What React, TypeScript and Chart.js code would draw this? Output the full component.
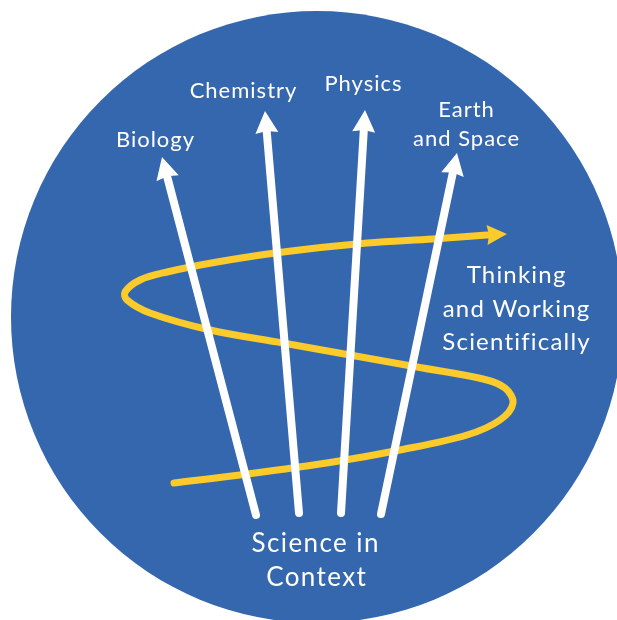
import React, { useEffect, useRef } from "react";
import { Chart, registerables } from "chart.js";

Chart.register(...registerables);

// ---- Data (diagram coordinates on a 617 x 620 value grid) ----
const circleCenterX = [317];
const circleCenterY = [317];
const circleRadius = 306;

// Subject arrows: tail (bottom) then tip (top)
const arrowNames = ["Biology", "Chemistry", "Physics", "Earth and Space"];
const arrowTailX = [256, 299, 341, 381];
const arrowTailY = [515, 513, 513, 514];
const arrowTipX = [162, 265, 365, 457];
const arrowTipY = [157, 111, 110, 153];

// "Thinking and Working Scientifically" S-shaped path
const twsX = [174, 240, 333, 400, 467, 500, 513, 505, 483, 417, 350, 283, 210, 150, 127, 125, 140, 167, 217, 283, 367, 433, 487, 507];
const twsY = [483, 475, 462, 450, 435, 420, 403, 388, 379, 367, 355, 343, 330, 313, 300, 292, 280, 272, 262, 252, 243, 239, 235, 234];

// Text labels
const labelLines = ["Biology", "Chemistry", "Physics", "Earth", "and Space", "Thinking", "and Working", "Scientifically", "Science in", "Context"];
const labelX = [155, 243, 363, 466, 466, 516, 516, 516, 315, 316];
const labelY = [140, 91, 84, 110, 139, 275, 309, 342, 544, 578];
const labelSize = [22, 22, 22, 22, 22, 24, 24, 24, 26, 26];
const labelSpacing = [1, 1, 1, 1, 1, 1.2, 1.2, 1.2, 1.4, 1.4];

const BLUE = "rgb(52,103,174)";
const YELLOW = "rgb(251,202,43)";
const WHITE = "#ffffff";

const arrowPlugin = {
  id: "arrowHeads",
  afterDatasetsUpdate(chart: any) {
    chart.data.datasets.forEach((ds: any, i: number) => {
      if (!ds.arrowHead) return;
      const meta = chart.getDatasetMeta(i);
      const pts = meta.data;
      if (pts.length < 2) return;
      const last = pts[pts.length - 1];
      const prev = pts[pts.length - 2];
      const tipX = last.x, tipY = last.y;
      const dx = tipX - prev.x, dy = tipY - prev.y;
      const len = Math.hypot(dx, dy) || 1;
      const ux = dx / len, uy = dy / len;
      const L = ds.arrowHead.length;
      meta.$arrow = { tipX, tipY, ux, uy };
      last.x = tipX - ux * (L - 3);
      last.y = tipY - uy * (L - 3);
    });
  },
  afterDatasetDraw(chart: any, args: any) {
    const ds = chart.data.datasets[args.index];
    if (!ds.arrowHead) return;
    const meta = chart.getDatasetMeta(args.index);
    const a = meta.$arrow;
    if (!a) return;
    const { length: L, halfWidth: W, notch } = ds.arrowHead;
    const ctx = chart.ctx;
    const bx = a.tipX - a.ux * L, by = a.tipY - a.uy * L;
    const px = -a.uy, py = a.ux;
    ctx.save();
    ctx.fillStyle = ds.borderColor;
    ctx.beginPath();
    ctx.moveTo(a.tipX, a.tipY);
    ctx.lineTo(bx + px * W, by + py * W);
    ctx.lineTo(a.tipX - a.ux * (L - notch), a.tipY - a.uy * (L - notch));
    ctx.lineTo(bx - px * W, by - py * W);
    ctx.closePath();
    ctx.fill();
    ctx.restore();
  },
};

const textPlugin = {
  id: "diagramText",
  afterDatasetsDraw(chart: any) {
    const ctx = chart.ctx;
    const xs = chart.scales.x, ys = chart.scales.y;
    ctx.save();
    ctx.fillStyle = WHITE;
    ctx.textAlign = "left";
    ctx.textBaseline = "middle";
    labelLines.forEach((t, i) => {
      ctx.font = `${labelSize[i]}px Lato, "Open Sans", sans-serif`;
      (ctx as any).letterSpacing = `${labelSpacing[i]}px`;
      const w = ctx.measureText(t).width - labelSpacing[i];
      ctx.fillText(t, xs.getPixelForValue(labelX[i]) - w / 2, ys.getPixelForValue(labelY[i]));
    });
    ctx.restore();
  },
};

export default function App() {
  const ref = useRef<HTMLCanvasElement | null>(null);

  useEffect(() => {
    if (!ref.current) return;
    const arrowSets = arrowNames.map((name, i) => ({
      type: "line",
      label: name,
      data: [
        { x: arrowTailX[i], y: arrowTailY[i] },
        { x: arrowTipX[i], y: arrowTipY[i] },
      ],
      borderColor: WHITE,
      borderWidth: 8,
      borderCapStyle: "round",
      pointRadius: 0,
      showLine: true,
      fill: false,
      tension: 0,
      order: 1,
      clip: false,
      arrowHead: { length: 22, halfWidth: 11.5, notch: 2 },
    }));

    const chart = new Chart(ref.current, {
      type: "scatter",
      data: {
        datasets: [
          ...arrowSets,
          {
            type: "line",
            label: "Thinking and Working Scientifically",
            data: twsX.map((x, i) => ({ x, y: twsY[i] })),
            borderColor: YELLOW,
            borderWidth: 7,
            borderCapStyle: "round",
            borderJoinStyle: "round",
            pointRadius: 0,
            showLine: true,
            fill: false,
            tension: 0.35,
            order: 5,
            clip: false,
            arrowHead: { length: 20, halfWidth: 10, notch: 2 },
          },
          {
            type: "scatter",
            label: "Science",
            data: circleCenterX.map((x, i) => ({ x, y: circleCenterY[i] })),
            backgroundColor: BLUE,
            borderWidth: 0,
            pointRadius: circleRadius,
            pointHoverRadius: circleRadius,
            order: 10,
            clip: false,
          },
        ] as any,
      },
      options: {
        animation: false,
        responsive: false,
        events: [],
        layout: { padding: 0, autoPadding: false },
        plugins: { legend: { display: false }, tooltip: { enabled: false } },
        scales: {
          x: { type: "linear", min: 0, max: 617, display: false },
          y: { type: "linear", min: 0, max: 620, reverse: true, display: false },
        },
      } as any,
      plugins: [arrowPlugin, textPlugin],
    });
    return () => chart.destroy();
  }, []);

  return (
    <div style={{ position: "absolute", left: 0, top: 0, width: 617, height: 620, background: "#fff" }}>
      <canvas ref={ref} width={617} height={620} style={{ display: "block" }} />
    </div>
  );
}
